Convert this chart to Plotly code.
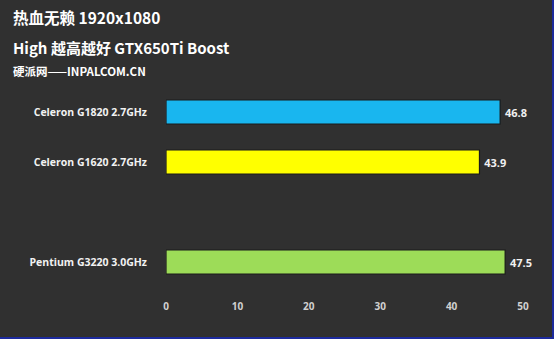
import plotly.graph_objects as go

categories = ["Celeron G1820 2.7GHz", "Celeron G1620 2.7GHz", " ", "Pentium G3220 3.0GHz"]
values = [46.8, 43.9, None, 47.5]
bar_colors = ["#19b6ef", "#ffff00", "#ffff00", "#9ddc58"]
value_labels = ["46.8", "43.9", "", "47.5"]
x_ticks = [0, 10, 20, 30, 40, 50]

title1 = "热血无赖 1920x1080"
title2 = "High 越高越好 GTX650Ti Boost"
title3 = "硬派网——INPALCOM.CN"

fig = go.Figure()
fig.add_trace(go.Bar(
    x=values, y=categories, orientation="h",
    marker=dict(color=bar_colors, line=dict(color="#1a1a1a", width=1.2)),
    width=0.48,
    text=["\u2009" + t for t in value_labels], textposition="outside",
    textfont=dict(family="Open Sans", size=11, color="#f0f0f0", weight="bold"),
    cliponaxis=False,
))

fig.update_layout(
    width=554, height=339,
    margin=dict(l=166, r=31, t=87, b=52),
    paper_bgcolor="#303030", plot_bgcolor="#303030",
    showlegend=False,
    font=dict(family="Open Sans", color="#eeeeee"),
    xaxis=dict(range=[0, 50], tickvals=x_ticks, showgrid=False, zeroline=False,
               showline=False, ticks="", ticklabelstandoff=12,
               tickfont=dict(size=10, color="#d0d0d0", family="Open Sans", weight="bold")),
    yaxis=dict(categoryorder="array", categoryarray=categories, autorange="reversed",
               range=[3.5, -0.5], showgrid=False, zeroline=False, showline=False,
               ticks="", ticklabelstandoff=18,
               tickfont=dict(size=10.5, color="#f2f2f2", family="Open Sans", weight="bold")),
    bargap=0.5,
)

annos = [
    (title1, 17, 15.5),
    (title2, 47, 15),
    (title3, 71, 11.5),
]
for txt, ypix, size in annos:
    fig.add_annotation(
        text=txt, xref="paper", yref="paper",
        x=(11 - 166) / (554 - 166 - 31), y=1 + (87 - ypix) / (339 - 87 - 52),
        xanchor="left", yanchor="middle", showarrow=False,
        font=dict(family="Noto Sans CJK SC", size=size, color="#ffffff", weight="bold"),
    )

# blue border at bottom and right edges
fig.add_shape(type="rect", xref="paper", yref="paper",
              x0=(0 - 166) / 357, x1=(554 - 166) / 357,
              y0=-52 / 200, y1=-50 / 200,
              fillcolor="#1c2a9c", line=dict(width=0), layer="above")
fig.add_shape(type="rect", xref="paper", yref="paper",
              x0=(552 - 166) / 357, x1=(554 - 166) / 357,
              y0=-52 / 200, y1=1 + 87 / 200,
              fillcolor="#1c2a9c", line=dict(width=0), layer="above")

fig.write_html("out.html")
